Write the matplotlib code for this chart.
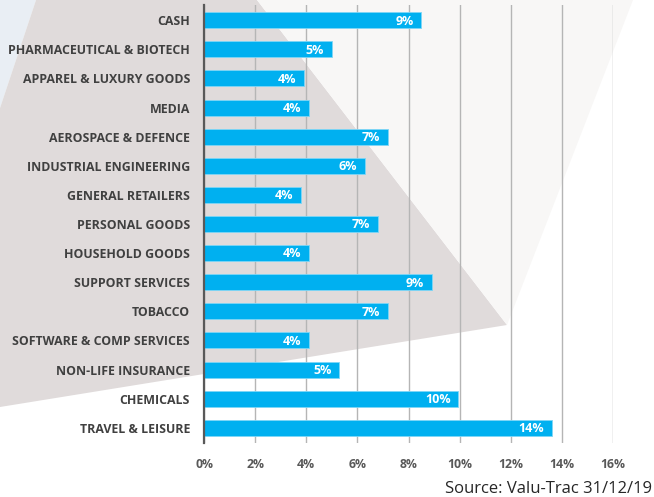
import matplotlib.pyplot as plt
from matplotlib.patches import Polygon

# Sector weights (%), top to bottom as in the chart
sectors = [
    "CASH", "PHARMACEUTICAL & BIOTECH", "APPAREL & LUXURY GOODS", "MEDIA",
    "AEROSPACE & DEFENCE", "INDUSTRIAL ENGINEERING", "GENERAL RETAILERS",
    "PERSONAL GOODS", "HOUSEHOLD GOODS", "SUPPORT SERVICES", "TOBACCO",
    "SOFTWARE & COMP SERVICES", "NON-LIFE INSURANCE", "CHEMICALS",
    "TRAVEL & LEISURE",
]
weights = [8.5, 5.0, 3.9, 4.1, 7.2, 6.3, 3.8, 6.8, 4.1, 8.9, 7.2, 4.1, 5.3, 9.95, 13.6]
weight_labels = ["9%", "5%", "4%", "4%", "7%", "6%", "4%", "7%", "4%", "9%",
                 "7%", "4%", "5%", "10%", "14%"]
x_ticks = [0, 2, 4, 6, 8, 10, 12, 14, 16]

Bar_Colour = "#00B0F0"
Text_Colour = "#404040"
W, H = 654, 497

plt.rcParams['font.family'] = ['Open Sans', 'DejaVu Sans']
fig = plt.figure(figsize=(W / 100, H / 100), dpi=100)

#Background decoration in pixel coordinates
bg = fig.add_axes([0, 0, 1, 1], zorder=0)
bg.set_xlim(0, W)
bg.set_ylim(H, 0)
bg.axis("off")
bg.add_patch(Polygon([(0, 0), (36, 0), (0, 108)], color="#E9EEF4", lw=0))
bg.add_patch(Polygon([(36, 0), (257, 0), (507, 325), (0, 407), (0, 108)],
                     color="#E0DBDB", lw=0))
bg.add_patch(Polygon([(257, 0), (633, 0), (507, 325)], color="#F8F7F6", lw=0))

#Bar chart
ax = fig.add_axes([204 / W, 1 - 443 / H, (613 - 204) / W, (443 - 5) / H], zorder=1)
ax.patch.set_alpha(0)
pos = list(range(len(sectors)))
ax.barh(pos, weights, height=0.55, color=Bar_Colour, edgecolor="#7FD6F6",
        linewidth=0.6, zorder=3)
for p, w, lab in zip(pos, weights, weight_labels):
    ax.text(w - 0.3, p + 0.03, lab, ha="right", va="center", color="white",
            fontsize=9, fontweight="bold", zorder=4)

ax.set_ylim(len(sectors) - 0.5 + 0.02, -0.5 - 0.02)
ax.set_xlim(0, 16)
ax.set_yticks(pos)
ax.set_yticklabels(sectors, fontsize=8.9, fontweight="bold", color=Text_Colour)
ax.set_xticks(x_ticks)
ax.set_xticklabels([f"{t}%" for t in x_ticks], fontsize=8.8, fontweight="bold",
                   color="#595959")
ax.tick_params(axis="both", length=0)
ax.tick_params(axis="y", pad=10)
ax.tick_params(axis="x", pad=11)
ax.grid(axis="x", color="#B5B5B5", linewidth=1, zorder=1)
ax.set_axisbelow(True)
for s in ["top", "right", "bottom"]:
    ax.spines[s].set_visible(False)
ax.spines["left"].set_color("#595959")
ax.spines["left"].set_linewidth(1.6)
ax.spines["left"].set_zorder(5)

fig.text(652 / W, 1 - 489 / H, "Source: Valu-Trac 31/12/19", ha="right",
         va="center", fontsize=12, color="#262626")

plt.savefig("out.png", dpi=100)
